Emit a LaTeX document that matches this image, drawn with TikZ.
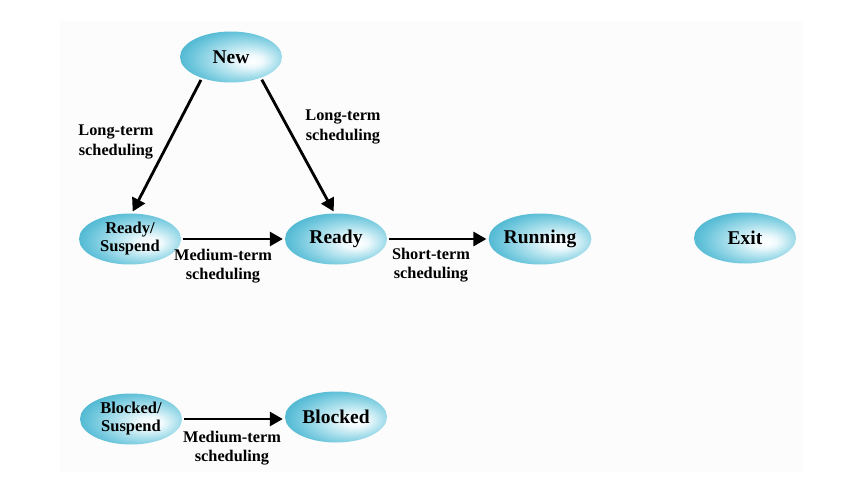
\documentclass[tikz,border=0pt]{standalone}
\usepackage{fontspec}
\setmainfont{Liberation Serif}
\usetikzlibrary{arrows.meta,shapes.geometric}

\definecolor{stcyanA}{HTML}{EEF9FC}
\definecolor{stcyanB}{HTML}{B5E4EF}
\definecolor{stcyanC}{HTML}{66C3DA}
\definecolor{stcyanD}{HTML}{3DAECB}
\definecolor{pagebg}{HTML}{FCFCFC}

% soft cyan ball shading, brightest to the right of centre
\pgfdeclareradialshading{stateball}{\pgfpoint{11bp}{-4bp}}{%
  color(0bp)=(white);
  color(6bp)=(stcyanA);
  color(14bp)=(stcyanB);
  color(26bp)=(stcyanC);
  color(34bp)=(stcyanD);
  color(50bp)=(stcyanD)}

\tikzset{
  state/.style={ellipse, shading=stateball, minimum width=102pt,
    minimum height=51pt, inner sep=0pt, align=center,
    font=\fontsize{19.5}{19.5}\selectfont\bfseries},
  smallstate/.style={state, font=\fontsize{16.5}{18}\selectfont\bfseries},
  lbl/.style={align=center, inner sep=0pt,
    font=\fontsize{16.3}{19.5}\selectfont\bfseries},
  trans/.style={line width=2.8pt, -{Triangle[length=13pt,width=14pt]},
    shorten >=2pt, shorten <=2pt}
}

\begin{document}
\begin{tikzpicture}[x=1pt,y=-1pt]
  \useasboundingbox (0,0) rectangle (867,481);
  \fill[pagebg] (60,21) rectangle (803,472);

  % states
  \node[state] (new) at (231,57) {New};
  \node[smallstate] (rs) at (130,239) {Ready/\\Suspend};
  \node[state] (ready) at (336,239) {Ready};
  \node[state] (running) at (540,239) {Running};
  \node[state] (exit) at (745,238) {Exit};
  \node[smallstate] (bs) at (131,419) {Blocked/\\Suspend};
  \node[state] (blocked) at (336,417) {Blocked};

  % transitions
  \draw[trans] (new.216) -- (rs.86);
  \draw[trans] (new.325) -- (ready.93);
  \draw[trans] (rs.east) -- (rs.east -| ready.west);
  \draw[trans] (ready.east) -- (ready.east -| running.west);
  \draw[trans] (bs.east) -- (bs.east -| blocked.west);

  % transition labels
  \node[lbl] (l1) at (116,142) {Long-term\\scheduling};
  \node[lbl] (l2) at (343,127) {Long-term\\scheduling};
  \node[lbl] (l3) at (223,266) {Medium-term\\scheduling};
  \node[lbl] (l4) at (431,265) {Short-term\\scheduling};
  \node[lbl] (l5) at (232,448) {Medium-term\\scheduling};
\end{tikzpicture}
\end{document}
